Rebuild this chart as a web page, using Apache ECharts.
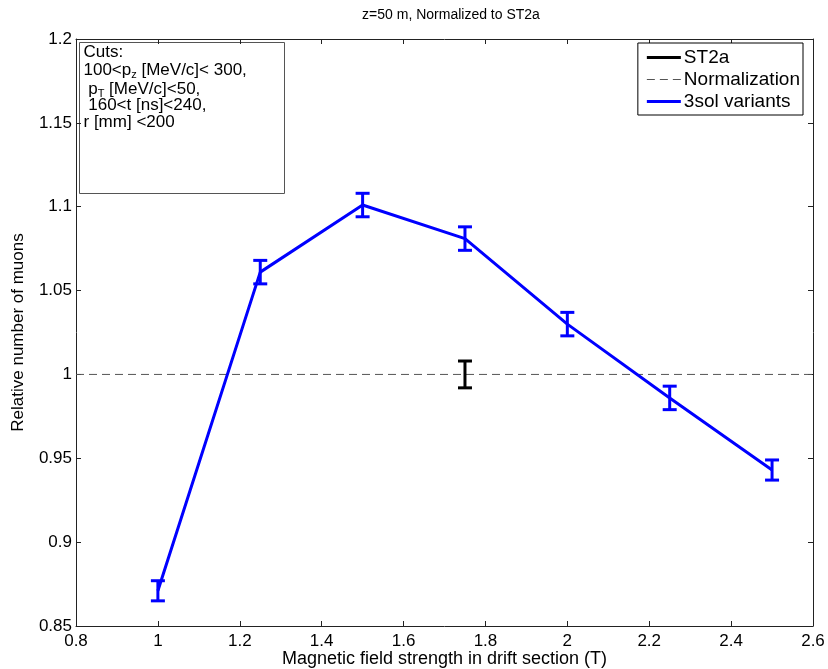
<!DOCTYPE html>
<html>
<head>
<meta charset="utf-8">
<script src="https://cdn.jsdelivr.net/npm/echarts@6/dist/echarts.min.js"></script>
<style>html,body{margin:0;padding:0;background:#fff}#c{width:828px;height:669px}</style>
</head>
<body>
<div id="c"></div>
<script>
// ---- data ----
const fieldValues = [1, 1.25, 1.5, 1.75, 2, 2.25, 2.5];
const variantValues = [0.871, 1.061, 1.101, 1.081, 1.030, 0.986, 0.943];
const variantErrors = [0.006, 0.007, 0.007, 0.007, 0.007, 0.007, 0.006];
const st2aField = [1.75];
const st2aValue = [1.0];
const st2aError = [0.008];
const normalizationField = [0.8, 2.6];
const normalizationValue = [1.0, 1.0];
const xTicks = [0.8, 1, 1.2, 1.4, 1.6, 1.8, 2, 2.2, 2.4, 2.6];
const yTicks = [0.85, 0.9, 0.95, 1, 1.05, 1.1, 1.15, 1.2];
const seriesNames = ['ST2a', 'Normalization', '3sol variants'];
const cutsLines = ['Cuts:', '100<p{sub|z} [MeV/c]< 300,', ' p{sub|T} [MeV/c]<50,', ' 160<t [ns]<240,', 'r [mm] <200'];

const FONT = "'Liberation Sans', Arial, sans-serif";
const chart = echarts.init(document.getElementById('c'));

function errorRender(color) {
  return function (params, api) {
    const x = api.value(0), y = api.value(1), e = api.value(2);
    const top = api.coord([x, y + e]);
    const bot = api.coord([x, y - e]);
    const hw = 7;
    const style = { stroke: color, lineWidth: 3, fill: null };
    return {
      type: 'group',
      children: [
        { type: 'line', shape: { x1: top[0], y1: top[1], x2: bot[0], y2: bot[1] }, style },
        { type: 'line', shape: { x1: top[0] - hw, y1: top[1], x2: top[0] + hw, y2: top[1] }, style },
        { type: 'line', shape: { x1: bot[0] - hw, y1: bot[1], x2: bot[0] + hw, y2: bot[1] }, style }
      ]
    };
  };
}

const axisLineStyle = { color: '#222', width: 1 };
const xMin = xTicks[0], xMax = xTicks[xTicks.length - 1];
const yMin = yTicks[0], yMax = yTicks[yTicks.length - 1];

const cutsLineY = [1.5, 17.5, 36.5, 54.5, 71.5];
const cutsTexts = cutsLines.map((t, i) => ({
  type: 'text', x: 4, y: cutsLineY[i],
  style: {
    text: t,
    fontFamily: FONT, fontSize: 17, fill: '#000',
    rich: {
      sub: { fontSize: 11, fontFamily: FONT, verticalAlign: 'bottom', padding: [9, 0, 0, 0], fill: '#000' }
    }
  }
}));

const option = {
  animation: false,
  backgroundColor: '#fff',
  title: {
    text: 'z=50 m, Normalized to ST2a',
    left: 446, top: 3, textAlign: 'center',
    textStyle: { fontFamily: FONT, fontSize: 14, fontWeight: 'normal', color: '#000' }
  },
  grid: { left: 76, right: 15, top: 39, bottom: 43, show: false, outerBoundsMode: 'none', containLabel: false },
  legend: {
    data: [
      { name: 'ST2a', icon: 'rect' },
      { name: 'Normalization', icon: 'path://M0,0H8V1H0ZM13,0H21V1H13ZM26,0H34V1H26Z' },
      { name: '3sol variants', icon: 'rect' }
    ],
    orient: 'vertical',
    right: 25, top: 43,
    backgroundColor: '#fff',
    borderColor: '#000', borderWidth: 1, borderRadius: 0,
    padding: [5, 3, 4, 9],
    itemGap: 3,
    itemWidth: 34, itemHeight: 3,
    textStyle: { fontFamily: FONT, fontSize: 19, color: '#000', padding: [0, 0, 0, -2] }
  },
  xAxis: [
    {
      type: 'value', min: xMin, max: xMax, interval: 0.2,
      name: 'Magnetic field strength in drift section (T)',
      nameLocation: 'middle', nameGap: 24, nameMoveOverlap: false,
      nameTextStyle: { fontFamily: FONT, fontSize: 18, color: '#000' },
      axisLine: { show: true, lineStyle: axisLineStyle },
      axisTick: { show: true, inside: true, length: 5, lineStyle: axisLineStyle },
      axisLabel: { fontFamily: FONT, fontSize: 17, color: '#000', margin: 7 },
      splitLine: { show: false }
    },
    {
      type: 'value', min: xMin, max: xMax, interval: 0.2, position: 'top',
      axisLine: { show: true, lineStyle: axisLineStyle },
      axisTick: { show: true, inside: true, length: 5, lineStyle: axisLineStyle },
      axisLabel: { show: false }, splitLine: { show: false }
    }
  ],
  yAxis: [
    {
      type: 'value', min: yMin, max: yMax, interval: 0.05,
      name: 'Relative number of muons',
      nameLocation: 'middle', nameGap: 49, nameMoveOverlap: false,
      nameTextStyle: { fontFamily: FONT, fontSize: 17, color: '#000' },
      axisLine: { show: true, lineStyle: axisLineStyle },
      axisTick: { show: true, inside: true, length: 5, lineStyle: axisLineStyle },
      axisLabel: { fontFamily: FONT, fontSize: 17, color: '#000', margin: 4 },
      splitLine: { show: false }
    },
    {
      type: 'value', min: yMin, max: yMax, interval: 0.05, position: 'right',
      axisLine: { show: true, lineStyle: axisLineStyle },
      axisTick: { show: true, inside: true, length: 5, lineStyle: axisLineStyle },
      axisLabel: { show: false }, splitLine: { show: false }
    }
  ],
  series: [
    {
      name: 'Normalization', type: 'line', symbol: 'none',
      data: normalizationField.map((x, i) => [x, normalizationValue[i]]),
      lineStyle: { color: '#555', width: 1, type: [8, 5] },
      itemStyle: { color: '#555' }, z: 1
    },
    {
      name: '3sol variants', type: 'line', symbol: 'none',
      data: fieldValues.map((x, i) => [x, variantValues[i]]),
      lineStyle: { color: '#0000ff', width: 3 }, itemStyle: { color: '#0000ff' }, z: 3
    },
    {
      name: 'ST2a', type: 'line', symbol: 'none',
      data: st2aField.map((x, i) => [x, st2aValue[i]]),
      lineStyle: { color: '#000', width: 3 }, itemStyle: { color: '#000' }
    },
    {
      type: 'custom', z: 4,
      renderItem: errorRender('#0000ff'),
      data: fieldValues.map((x, i) => [x, variantValues[i], variantErrors[i]])
    },
    {
      type: 'custom', z: 4,
      renderItem: errorRender('#000'),
      data: st2aField.map((x, i) => [x, st2aValue[i], st2aError[i]])
    }
  ],
  graphic: [
    {
      type: 'group', left: 79, top: 42,
      children: [
        { type: 'rect', shape: { x: 0, y: 0, width: 205, height: 151 },
          style: { fill: '#fff', stroke: '#555', lineWidth: 1 } }
      ].concat(cutsTexts)
    }
  ]
};
chart.setOption(option);
</script>
</body>
</html>
